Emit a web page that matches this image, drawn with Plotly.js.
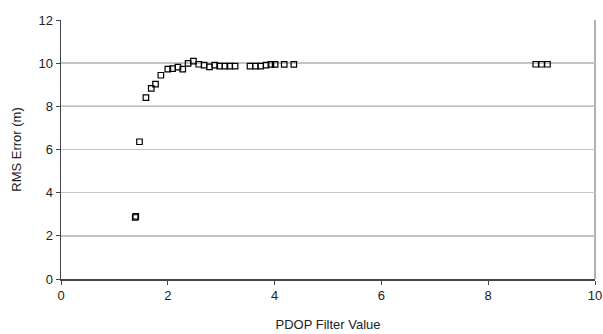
<!DOCTYPE html>
<html>
<head>
<meta charset="utf-8">
<script src="https://cdn.plot.ly/plotly-3.0.1.min.js"></script>
<style>html,body{margin:0;padding:0;background:#fff;}#chart{width:603px;height:334px;}</style>
</head>
<body>
<div id="chart"></div>
<script>
// PDOP filter value (x) and RMS error in metres (y)
var pdop = [1.39, 1.40, 1.47, 1.59, 1.69, 1.77, 1.87, 2.00, 2.09, 2.19, 2.28, 2.38, 2.48, 2.58, 2.68, 2.78, 2.88, 2.97, 3.07, 3.16, 3.26, 3.54, 3.64, 3.74, 3.84, 3.93, 4.01, 4.18, 4.36, 8.89, 9.00, 9.11];
var rmsError = [2.85, 2.90, 6.36, 8.40, 8.83, 9.03, 9.44, 9.72, 9.75, 9.82, 9.72, 9.99, 10.09, 9.95, 9.91, 9.83, 9.91, 9.86, 9.86, 9.86, 9.86, 9.86, 9.86, 9.86, 9.91, 9.94, 9.94, 9.94, 9.94, 9.95, 9.95, 9.95];
var xTicks = [0, 2, 4, 6, 8, 10];
var yTicks = [0, 2, 4, 6, 8, 10, 12];
var darkGrid = [6, 8];

var font = {family: 'Liberation Sans, Arial, sans-serif', size: 13, color: '#222'};

var shapes = darkGrid.map(function (v) {
  return {type: 'line', xref: 'paper', x0: 0, x1: 1, yref: 'y', y0: v, y1: v,
          line: {color: '#555', width: 1.2}, layer: 'below'};
});
shapes.push({type: 'line', xref: 'paper', x0: 1, x1: 1, yref: 'paper', y0: 0, y1: 1,
             line: {color: '#999', width: 1.5}, layer: 'below'});

Plotly.newPlot('chart', [{
  type: 'scatter', mode: 'markers', x: pdop, y: rmsError,
  marker: {symbol: 'square-open', size: 5.5, color: '#000', line: {width: 1.2, color: '#000'}},
  hoverinfo: 'x+y'
}], {
  width: 603, height: 334,
  margin: {l: 61, r: 8, t: 20, b: 55},
  paper_bgcolor: '#fff', plot_bgcolor: '#fff',
  showlegend: false,
  font: font,
  shapes: shapes,
  xaxis: {
    range: [0, 10], tickvals: xTicks, ticktext: xTicks.map(String),
    showgrid: false, zeroline: false,
    showline: true, linecolor: '#444', linewidth: 1.5,
    ticks: 'outside', ticklen: 4, tickcolor: '#444',
    tickfont: font,
    title: {text: 'PDOP Filter Value', font: font, standoff: 18}
  },
  yaxis: {
    range: [0, 12], tickvals: yTicks, ticktext: yTicks.map(String),
    showgrid: true, gridcolor: '#c4c4c4', gridwidth: 1.5,
    zeroline: false,
    showline: true, linecolor: '#444', linewidth: 1.5,
    ticks: 'outside', ticklen: 4, tickcolor: '#444',
    tickfont: font,
    title: {text: 'RMS Error (m)', font: font, standoff: 14}
  }
}, {staticPlot: true, displayModeBar: false});
</script>
</body>
</html>
